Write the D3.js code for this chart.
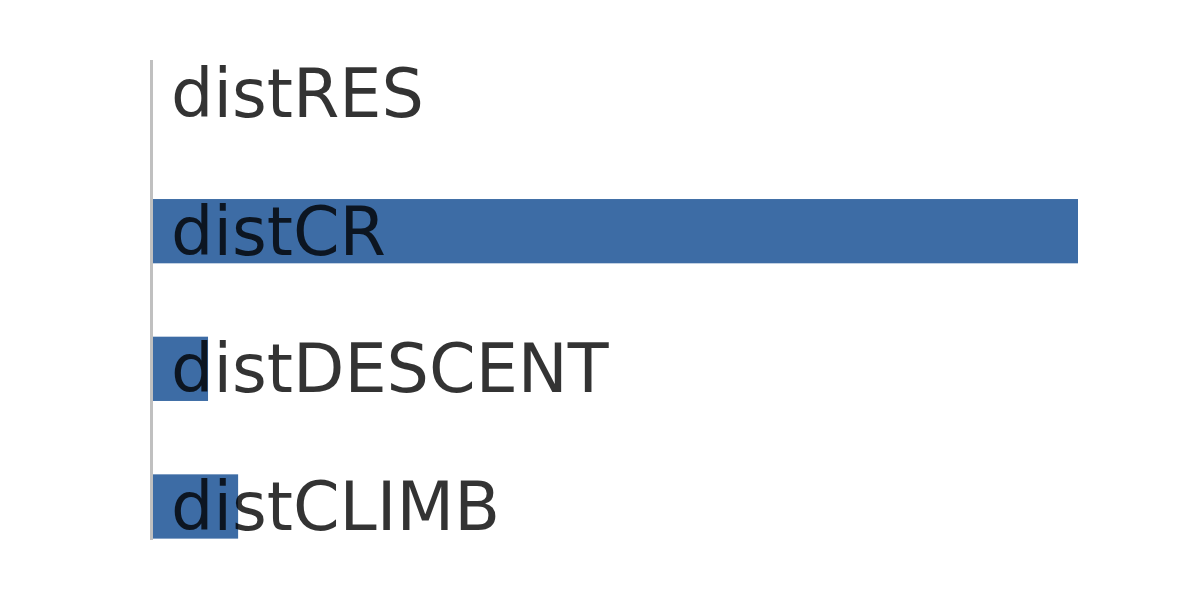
<!DOCTYPE html>
<html><head><meta charset="utf-8">
<script src="https://cdn.jsdelivr.net/npm/d3@7"></script>
<style>html,body{margin:0;padding:0;background:#fff;}</style>
</head><body>
<svg id="chart" width="1200" height="600"></svg>
<script>
const categories = ["distRES", "distCR", "distDESCENT", "distCLIMB"];
const values = [0, 1000, 60.5, 93];

const svg = d3.select("#chart");
const x = d3.scaleLinear().domain([0, 1000]).range([152, 1078]);
const y = d3.scaleBand().domain(categories).range([60, 540]).paddingInner(0.533).paddingOuter(0.01);

svg.selectAll("rect.bar").data(categories).enter().append("rect")
  .attr("class", "bar")
  .attr("x", x(0))
  .attr("y", d => y(d))
  .attr("width", (d, i) => x(values[i]) - x(0))
  .attr("height", y.bandwidth())
  .attr("fill", "#3d6ca5");

svg.append("line")
  .attr("x1", 151.5).attr("x2", 151.5)
  .attr("y1", 60).attr("y2", 540)
  .attr("stroke", "#c0c0c0").attr("stroke-width", 3);

svg.selectAll("text.lbl").data(categories).enter().append("text")
  .attr("class", "lbl")
  .attr("x", 171)
  .attr("y", d => y(d) + y.bandwidth() / 2 + 23.5)
  .attr("font-family", "DejaVu Sans")
  .attr("font-size", 66.8)
  .attr("fill", "#000")
  .attr("fill-opacity", 0.8)
  .text(d => d);
</script>
</body></html>
